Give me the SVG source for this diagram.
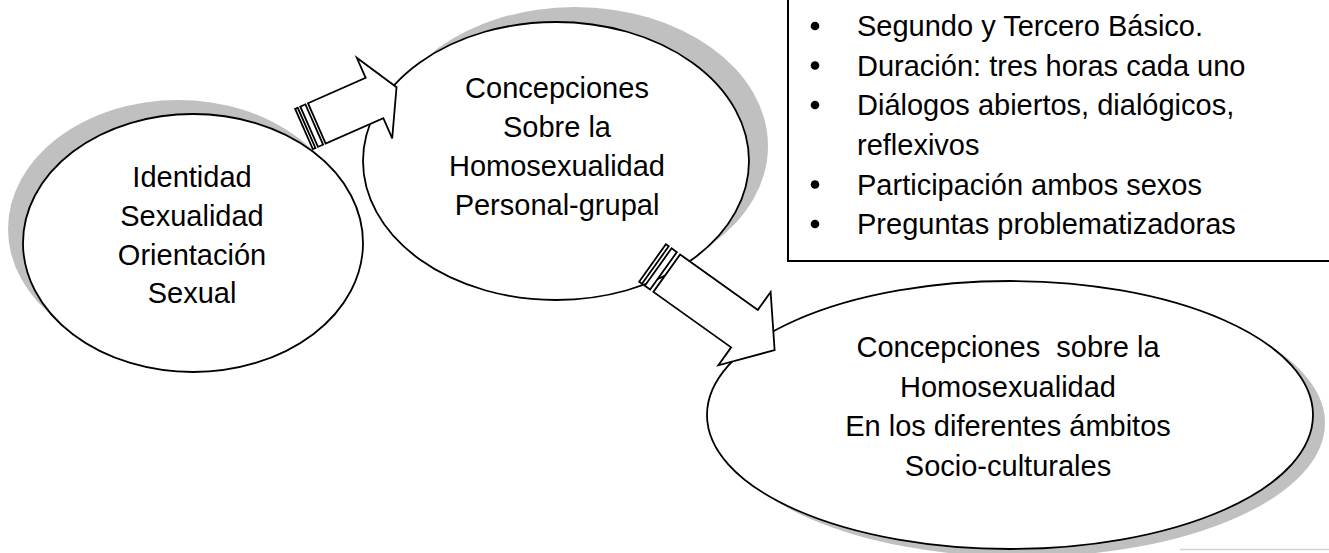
<svg xmlns="http://www.w3.org/2000/svg" width="1329" height="553" viewBox="0 0 1329 553">
<style>
.shadow{fill:#c0c0c0;stroke:none}
.node{fill:#ffffff;stroke:#000000;stroke-width:1.8}
.arrow{fill:#ffffff;stroke:#000000;stroke-width:1.8;stroke-linejoin:miter}
.t{font-family:"Liberation Sans",Arial,sans-serif;font-size:29px;fill:#000000;text-anchor:middle}
.b{font-family:"Liberation Sans",Arial,sans-serif;font-size:29px;fill:#000000}
.box{fill:#ffffff;stroke:#000000;stroke-width:2}
.dot{fill:#000000}
</style>
<rect x="0" y="0" width="1329" height="553" fill="#ffffff"/>
<line x1="1180" y1="549.5" x2="1329" y2="549.5" stroke="#d4d4d4" stroke-width="1.5"/>

<g id="node-identidad">
  <ellipse class="shadow" cx="178" cy="229" rx="170" ry="129"/>
  <ellipse class="node" cx="193" cy="243" rx="170" ry="129"/>
  <text class="t" x="192" y="187">Identidad</text>
  <text class="t" x="192" y="226">Sexualidad</text>
  <text class="t" x="192" y="265">Orientación</text>
  <text class="t" x="192" y="303">Sexual</text>
</g>

<g id="node-personal">
  <ellipse class="shadow" cx="575" cy="146" rx="193" ry="139"/>
  <ellipse class="node" cx="556" cy="161" rx="193" ry="139"/>
  <text class="t" x="557" y="97.5">Concepciones</text>
  <text class="t" x="557" y="136.5">Sobre la</text>
  <text class="t" x="557" y="175.5">Homosexualidad</text>
  <text class="t" x="557" y="214.5">Personal-grupal</text>
</g>

<g id="node-sociocultural">
  <ellipse class="shadow" cx="1022" cy="423" rx="303" ry="134"/>
  <ellipse class="node" cx="1010" cy="415" rx="303" ry="134"/>
  <text class="t" x="1008" y="357" xml:space="preserve">Concepciones  sobre la</text>
  <text class="t" x="1008" y="396.5">Homosexualidad</text>
  <text class="t" x="1008" y="436">En los diferentes ámbitos</text>
  <text class="t" x="1008" y="475.5">Socio-culturales</text>
</g>

<g id="connectors">
  <g id="arrow-1" transform="translate(304,129) rotate(-23.7)">
    <rect class="arrow" x="0" y="-22" width="2.8" height="44"/>
    <rect class="arrow" x="5.6" y="-22" width="5.6" height="44"/>
    <path class="arrow" d="M14,-22 L77,-22 L77,-44 L101.5,-1 L77,44 L77,22 L14,22 Z"/>
  </g>
  <g id="arrow-2" transform="translate(652.5,263) rotate(35.5)">
    <rect class="arrow" x="0" y="-23" width="3.5" height="46"/>
    <rect class="arrow" x="7" y="-23" width="6.5" height="46"/>
    <path class="arrow" d="M17.5,-23 L113,-23 L113,-45 L150,0 L113,45 L113,23 L17.5,23 Z"/>
  </g>
</g>

<g id="info-box">
  <rect class="box" x="788" y="-10" width="560" height="271"/>
  <circle class="dot" cx="815" cy="26" r="4.3"/>
  <text class="b" x="857" y="36">Segundo y Tercero Básico.</text>
  <circle class="dot" cx="815" cy="65.5" r="4.3"/>
  <text class="b" x="857" y="75.5">Duración: tres horas cada uno</text>
  <circle class="dot" cx="815" cy="105" r="4.3"/>
  <text class="b" x="857" y="115">Diálogos abiertos, dialógicos,</text>
  <text class="b" x="857" y="154.5">reflexivos</text>
  <circle class="dot" cx="815" cy="184.5" r="4.3"/>
  <text class="b" x="857" y="194.5">Participación ambos sexos</text>
  <circle class="dot" cx="815" cy="224" r="4.3"/>
  <text class="b" x="857" y="234">Preguntas problematizadoras</text>
</g>
</svg>
